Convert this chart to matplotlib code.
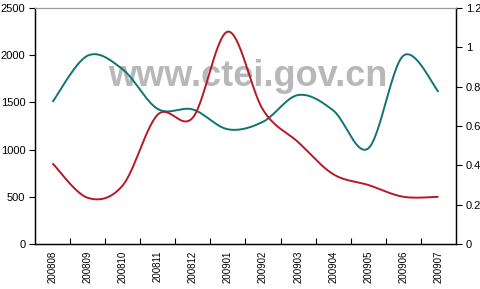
import numpy as np
import matplotlib
matplotlib.use("Agg")
import matplotlib.pyplot as plt

months = ["200808", "200809", "200810", "200811", "200812", "200901",
          "200902", "200903", "200904", "200905", "200906", "200907"]
teal_values = [1505, 1995, 1850, 1430, 1425, 1215, 1295, 1578, 1415, 1013, 1995, 1612]
red_values = [0.41, 0.235, 0.298, 0.658, 0.643, 1.08, 0.682, 0.518, 0.355, 0.30, 0.24, 0.24]
left_ticks = [0, 500, 1000, 1500, 2000, 2500]
right_ticks = [0, 0.2, 0.4, 0.6, 0.8, 1.0, 1.2]
right_labels = ["0", "0.2", "0.4", "0.6", "0.8", "1", "1.2"]


def smooth(xs, ys, n=30):
    # Excel-style smoothed line: cubic Bezier with Catmull-Rom control points
    xs = np.asarray(xs, float)
    ys = np.asarray(ys, float)
    px = np.concatenate([[xs[0]], xs, [xs[-1]]])
    py = np.concatenate([[ys[0]], ys, [ys[-1]]])
    ox, oy = [], []
    t = np.linspace(0, 1, n)
    for i in range(1, len(px) - 2):
        p0 = np.array([px[i], py[i]])
        p3 = np.array([px[i + 1], py[i + 1]])
        c1 = p0 + (np.array([px[i + 1], py[i + 1]]) - np.array([px[i - 1], py[i - 1]])) / 6
        c2 = p3 - (np.array([px[i + 2], py[i + 2]]) - np.array([px[i], py[i]])) / 6
        b = ((1 - t) ** 3)[:, None] * p0 + (3 * (1 - t) ** 2 * t)[:, None] * c1 \
            + (3 * (1 - t) * t ** 2)[:, None] * c2 + (t ** 3)[:, None] * p3
        ox.extend(b[:, 0])
        oy.extend(b[:, 1])
    return np.array(ox), np.array(oy)


plt.rcParams['font.family'] = ['Liberation Sans', 'DejaVu Sans']
fig = plt.figure(figsize=(4.8, 2.89), dpi=100)
ax = fig.add_axes([35 / 480, 1 - 244 / 289, 421 / 480, 236 / 289])
ax2 = ax.twinx()

x = np.arange(len(months)) + 0.5
sx, sy = smooth(x, teal_values)
ax.plot(sx, sy, color="#117375", lw=1.4, solid_capstyle="butt", zorder=3)
rx, ry = smooth(x, red_values)
ax2.plot(rx, ry, color="#b81826", lw=1.4, solid_capstyle="butt", zorder=3)

ax.set_xlim(0, len(months))
ax.set_ylim(0, 2500)
ax2.set_ylim(0, 1.2)

ax.set_yticks(left_ticks)
ax.set_yticklabels([str(v) for v in left_ticks], fontsize=8)
ax2.set_yticks(right_ticks)
ax2.set_yticklabels(right_labels, fontsize=8)

ax.set_xticks(np.arange(1, len(months)))
ax.set_xticklabels([])
ax.set_xticks(x, minor=True)
ax.set_xticklabels(months, minor=True, rotation=90, fontsize=7)
ax.tick_params(axis="x", which="major", direction="in", length=4, width=0.8)
ax.tick_params(axis="x", which="minor", length=0, pad=5)
ax.tick_params(axis="y", direction="out", length=4, width=0.8, pad=3)
ax2.tick_params(axis="y", direction="out", length=4, width=0.8, pad=3)

for a in (ax, ax2):
    a.spines["top"].set_color("#9a9a9a")
    a.spines["top"].set_linewidth(0.8)
    for s in ("left", "right", "bottom"):
        a.spines[s].set_color("black")
        a.spines[s].set_linewidth(0.9)

ax.text(248 / 480, 1 - 76 / 289, "www.ctei.gov.cn", fontsize=26, fontweight="bold",
        color="#b8b8b8", ha="center", va="center", zorder=1,
        transform=fig.transFigure)

fig.savefig("out.png", dpi=100)
